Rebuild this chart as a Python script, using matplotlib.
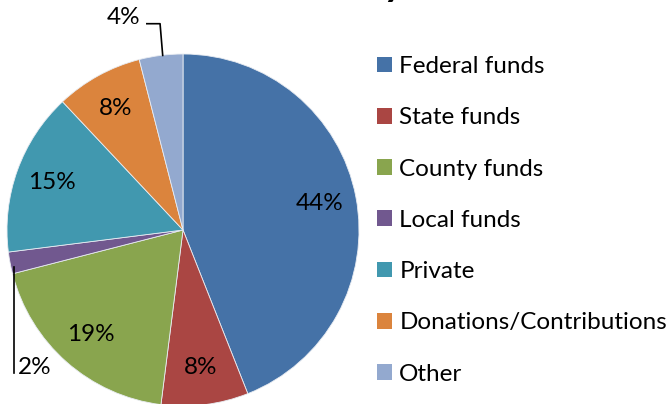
import numpy as np
import matplotlib
matplotlib.use("Agg")
import matplotlib.pyplot as plt
from matplotlib.patches import Patch

plt.rcParams['font.family'] = ['Lato', 'DejaVu Sans']

# data
sources = ['Federal funds', 'State funds', 'County funds', 'Local funds',
           'Private', 'Donations/Contributions', 'Other']
shares = [44, 8, 19, 2, 15, 8, 4]
colors = ['#4572A7', '#AA4643', '#89A54E', '#71588F',
          '#4198AF', '#DB843D', '#93A9CF']
title = 'Sources of Money'

W, H = 670, 404
fig = plt.figure(figsize=(W / 100, H / 100), dpi=100)

# pie axes: center (183, 230) px, radius 176 px
cx, cy, r = 183, 230, 176
ax = fig.add_axes([(cx - r) / W, (H - cy - r) / H, 2 * r / W, 2 * r / H])
ax.axis('off')

fs = 17.5
small = {2, 4}
wedges, texts, autotexts = ax.pie(
    shares, colors=colors, startangle=90, counterclock=False,
    radius=1, center=(0, 0), autopct='%d%%', pctdistance=0.79,
    wedgeprops=dict(edgecolor='#e8ecf2', linewidth=0.6),
    textprops=dict(fontsize=fs, color='black'), frame=False)
ax.set_xlim(-1, 1)
ax.set_ylim(-1, 1)
ax.set_aspect('equal')

# small slices get leader lines
for w, val, t in zip(wedges, shares, autotexts):
    if val not in small:
        continue
    t.set_visible(False)
    mid = np.deg2rad((w.theta1 + w.theta2) / 2)
    ex, ey = np.cos(mid), np.sin(mid)
    if ey > 0:
        # up, then left
        x0, y0 = ex + 0.01, ey
        y1 = ey + 0.18
        ax.plot([x0, x0 - 0.015, x0 - 0.09], [y0, y1, y1], color='black',
                lw=1.2, clip_on=False)
        ax.text(x0 - 0.125, y1 + 0.035, f'{val}%', fontsize=fs,
                ha='right', va='center')
    else:
        x0, y0 = ex + 0.02, ey - 0.025
        y1 = y0 - 0.6
        ax.plot([x0, x0], [y0, y1], color='black', lw=1.2, clip_on=False)
        ax.text(x0 + 0.025, y1 + 0.03, f'{val}%', fontsize=fs,
                ha='left', va='center')

handles = [Patch(facecolor=c, edgecolor='none') for c in colors]
fig.legend(handles, sources, loc='upper left',
           bbox_to_anchor=(377 / W, 1 - 56 / H), frameon=False,
           fontsize=fs, borderpad=0, borderaxespad=0,
           handlelength=0.62, handleheight=0.62, handletextpad=0.3,
           labelspacing=1.245)

fig.text(404 / W, 1 + 4 / H, title, fontsize=28, fontweight='bold',
         ha='right', va='baseline')

fig.savefig('out.png', dpi=100)
